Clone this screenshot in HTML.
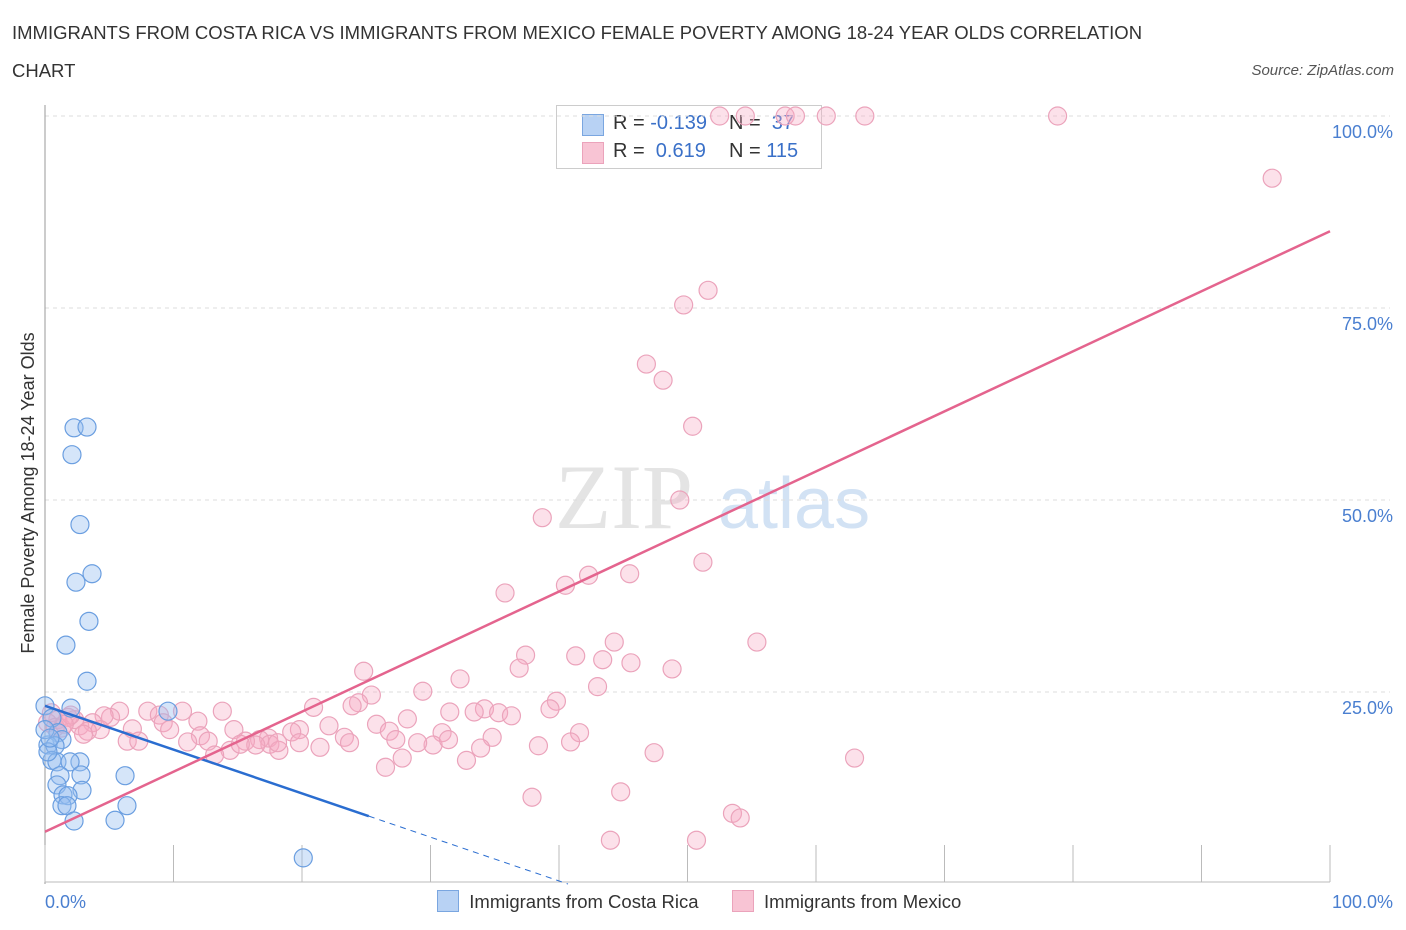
<!DOCTYPE html>
<html><head><meta charset="utf-8"><style>
body{margin:0;background:#fff;font-family:"Liberation Sans",sans-serif;}
#c{position:relative;width:1406px;height:930px;overflow:hidden}
.t{position:absolute;color:#333}
</style></head><body><div id="c">
<div class="t" style="left:12px;top:14px;font-size:18.5px;line-height:38px;width:1165px">IMMIGRANTS FROM COSTA RICA VS IMMIGRANTS FROM MEXICO FEMALE POVERTY AMONG 18-24 YEAR OLDS CORRELATION CHART</div>
<div class="t" style="right:12px;top:62px;font-size:15px;font-style:italic;color:#555">Source: ZipAtlas.com</div>
<div style="position:absolute;left:556px;top:105px;width:264px;height:62px;border:1px solid #ccc;background:#fff;font-size:20px;color:#333">
 <div style="position:absolute;left:25px;top:8px;width:20px;height:20px;background:#b8d2f4;border:1px solid #7aa6e0"></div>
 <div style="position:absolute;left:56px;top:6px">R = <span style="color:#3a70c8">-0.139</span></div>
 <div style="position:absolute;left:172px;top:6px">N = <span style="color:#3a70c8">&nbsp;37</span></div>
 <div style="position:absolute;left:25px;top:36px;width:20px;height:20px;background:#f8c4d4;border:1px solid #eba3bb"></div>
 <div style="position:absolute;left:56px;top:34px">R = <span style="color:#3a70c8">&nbsp;0.619</span></div>
 <div style="position:absolute;left:172px;top:34px">N = <span style="color:#3a70c8">115</span></div>
</div>
<svg id="s" width="1406" height="930" style="position:absolute;left:0;top:0"></svg>
</div>
<script>
const blueX=[2.26,3.27,2.1,2.72,3.66,2.41,3.42,1.63,3.27,0,2.02,9.57,0.54,1.01,1.32,0.23,0.78,0.54,0.93,2.72,1.95,0.23,1.17,2.8,6.23,0.93,2.88,1.4,1.79,1.32,1.71,6.38,2.26,5.45,20.1,0,0.39];
const blueY=[59.4,59.5,55.9,46.8,40.4,39.3,34.2,31.1,26.4,23.2,22.9,22.5,21.6,19.7,18.8,18.1,18.0,16.1,15.9,15.9,15.9,17.2,14.1,14.2,14.1,12.9,12.2,11.6,11.5,10.2,10.2,10.2,8.2,8.3,3.4,20.1,19.0];
const pinkX=[52.5,54.5,57.6,58.4,60.8,63.8,78.8,95.5,51.6,49.7,46.8,48.1,50.4,49.4,38.7,51.2,45.5,42.3,40.5,35.8,44.3,55.4,37.4,41.3,43.4,36.9,45.6,48.8,24.8,32.3,43.0,29.4,25.4,39.8,20.9,24.4,23.9,39.3,34.2,31.5,33.4,35.3,36.3,13.8,5.8,8.0,8.9,10.7,28.2,11.9,25.8,22.1,19.8,9.2,14.7,26.8,5.1,6.8,9.7,41.6,30.9,34.8,12.1,19.2,23.3,17.4,16.7,15.6,17.5,30.2,31.4,27.3,29.0,21.4,33.9,38.4,40.9,6.4,7.3,12.7,11.1,16.4,18.2,14.4,13.2,47.4,27.8,32.8,26.5,63.0,37.9,44.8,53.5,54.1,44.0,50.7,4.6,3.7,2.7,1.8,1.0,0.5,1.3,4.3,2.3,3.3,15.2,18.1,19.8,23.7,0.2,0.8,2.0,3.0,1.5];
const pinkY=[100,100,100,100,100,100,100,91.9,77.3,75.4,67.7,65.6,59.6,50.0,47.7,41.9,40.4,40.2,38.9,37.9,31.5,31.5,29.8,29.7,29.2,28.1,28.8,28.0,27.7,26.7,25.7,25.1,24.6,23.8,23.0,23.6,23.2,22.8,22.8,22.4,22.4,22.3,21.9,22.5,22.5,22.5,22.0,22.5,21.5,21.2,20.8,20.6,20.1,21.0,20.1,19.9,21.7,20.2,20.1,19.7,19.7,19.1,19.3,19.8,19.1,19.0,18.8,18.6,18.2,18.1,18.8,18.8,18.4,17.8,17.7,18.0,18.5,18.6,18.6,18.6,18.5,18.1,17.4,17.4,16.8,17.1,16.4,16.1,15.2,16.4,11.3,12.0,9.2,8.6,5.7,5.7,21.9,21.0,20.6,21.7,21.4,22.3,20.3,20.1,21.4,19.9,18.2,18.4,18.4,18.4,21.0,20.4,22.0,19.5,20.8];
const yTicks=[25,50,75,100];
const xTickCount=10;
const blueTrend=[23.2,-0.57];
const pinkTrend=[6.8,0.782];
const X=v=>45+v*12.85, Y=v=>884-v*7.68;
const s=document.getElementById('s'),NS='http://www.w3.org/2000/svg';
function el(t,a,p){const e=document.createElementNS(NS,t);for(const k in a)e.setAttribute(k,a[k]);(p||s).appendChild(e);return e;}
let w=el('text',{x:555,y:528,'font-family':'Liberation Serif,serif','font-size':92,fill:'#e4e4e4'});w.textContent='ZIP';


let w2=el('text',{x:718,y:528,'font-family':'Liberation Sans,sans-serif','font-size':72,fill:'#d2e2f4'});w2.textContent='atlas';


yTicks.forEach(v=>{
 const g=el('line',{x1:45,x2:1390,y1:Y(v),y2:Y(v),stroke:'#ddd','stroke-dasharray':'4,4'});
 
 
 const t=el('text',{x:1393,y:Y(v)+22,'text-anchor':'end','font-size':18,fill:'#4a7fd0','font-family':'Liberation Sans,sans-serif'});t.textContent=v.toFixed(1)+'%';
 
 
});
el('line',{x1:45,x2:45,y1:105,y2:884,stroke:'#999'});
el('line',{x1:45,x2:1330,y1:882,y2:882,stroke:'#bbb'});
for(let i=0;i<=xTickCount;i++){const tk=el('line',{x1:X(i*10),x2:X(i*10),y1:845,y2:882,stroke:'#bbb'});
 
 }
[['0.0%',45,'start'],['100.0%',1393,'end']].forEach(a=>{const t=el('text',{x:a[1],y:908,'text-anchor':a[2],'font-size':18,fill:'#4a7fd0','font-family':'Liberation Sans,sans-serif'});t.textContent=a[0];
 
 });
const yl=el('text',{transform:'translate(34,493) rotate(-90)','text-anchor':'middle','font-size':18,fill:'#333','font-family':'Liberation Sans,sans-serif'});yl.textContent='Female Poverty Among 18-24 Year Olds';


pinkX.forEach((x,i)=>{const c=el('circle',{cx:X(x),cy:Y(pinkY[i]),r:9,fill:'rgba(245,170,195,0.35)',stroke:'#eba3bb','stroke-width':1.2});
 
 });
blueX.forEach((x,i)=>{const c=el('circle',{cx:X(x),cy:Y(blueY[i]),r:9,fill:'rgba(150,190,240,0.4)',stroke:'#6a9ee0','stroke-width':1.2});
 
 });
const bl=el('line',{x1:X(0),y1:Y(blueTrend[0]),x2:X(25.2),y2:Y(blueTrend[0]+blueTrend[1]*25.2),stroke:'#2a6dd0','stroke-width':2.5});


const bd=el('line',{x1:X(25.2),y1:Y(blueTrend[0]+blueTrend[1]*25.2),x2:X(40.7),y2:Y(blueTrend[0]+blueTrend[1]*40.7),stroke:'#2a6dd0','stroke-width':1,'stroke-dasharray':'6,5'});


const pl=el('line',{x1:X(0),y1:Y(pinkTrend[0]),x2:X(100),y2:Y(pinkTrend[0]+pinkTrend[1]*100),stroke:'#e4648e','stroke-width':2.5});


</script>
<div style="position:absolute;left:437px;top:890px;font-size:18.5px;color:#333;white-space:nowrap">
 <span><span style="display:inline-block;width:20px;height:20px;background:#b8d2f4;border:1px solid #7aa6e0;vertical-align:-4px"></span>&nbsp; Immigrants from Costa Rica</span>
 <span style="margin-left:28px"><span style="display:inline-block;width:20px;height:20px;background:#f8c4d4;border:1px solid #eba3bb;vertical-align:-4px"></span>&nbsp; Immigrants from Mexico</span>
</div>
</body></html>
